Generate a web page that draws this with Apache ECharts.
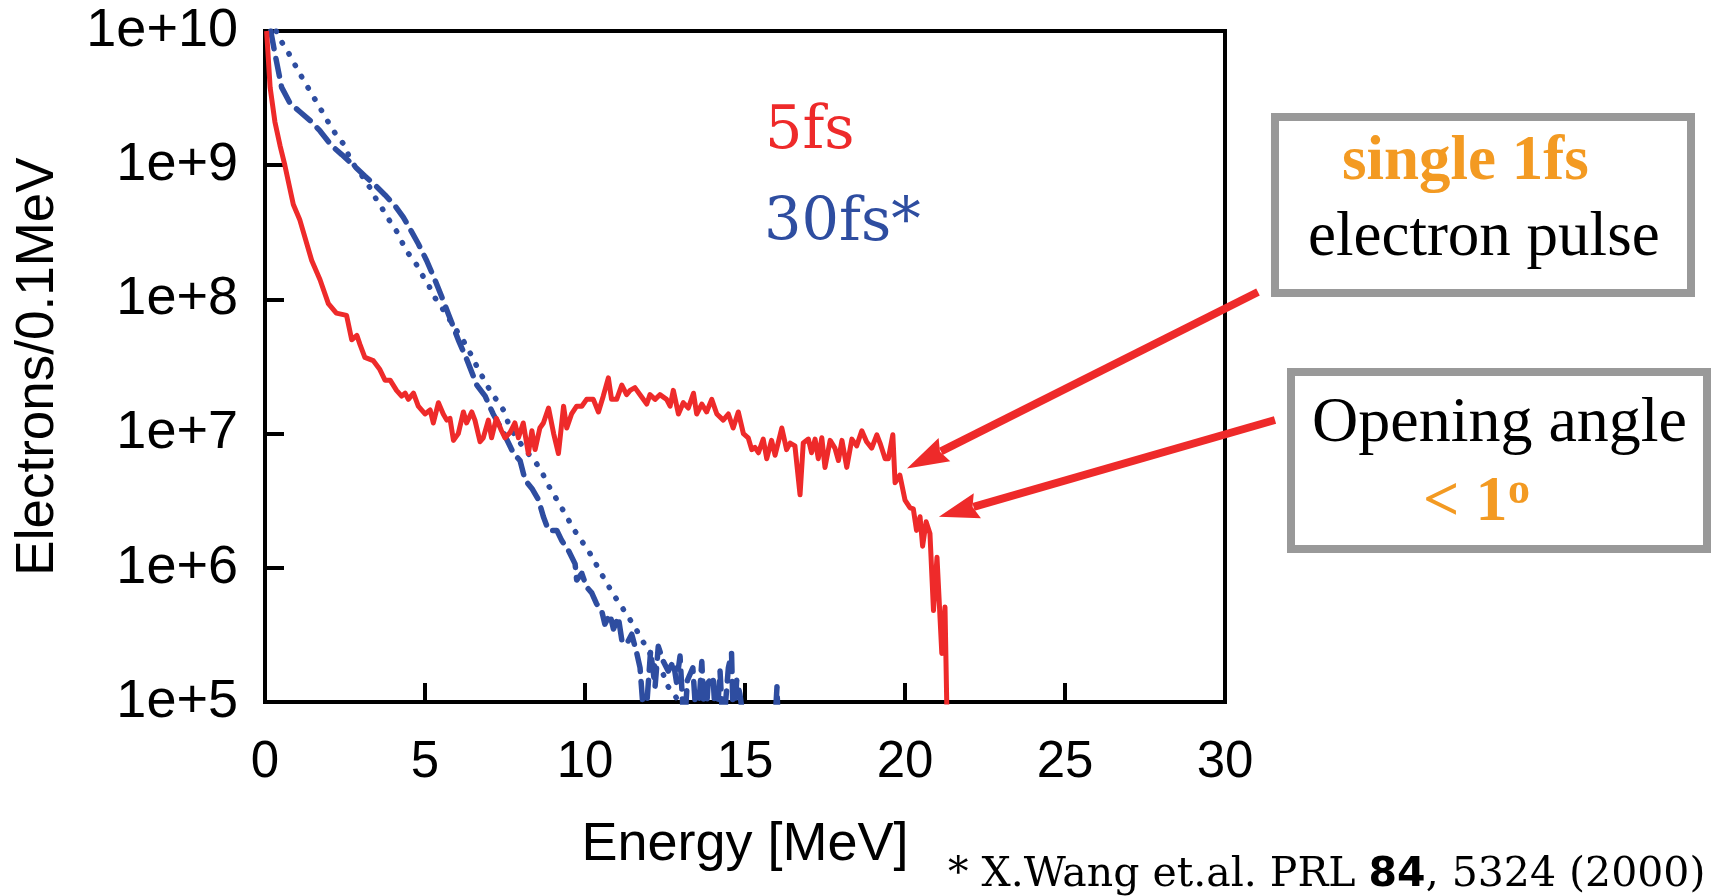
<!DOCTYPE html>
<html><head><meta charset="utf-8">
<script src="https://cdn.jsdelivr.net/npm/echarts@6/dist/echarts.min.js"></script>
<style>html,body{margin:0;padding:0;background:#fff}#c{width:1712px;height:896px}</style>
</head><body><div id="c"></div>
<script>
// ---- data ----
const energy5 = [0.05,0.16,0.31,0.47,0.62,0.885,1.09,1.46,1.72,1.98,2.23,2.55,2.71,2.87,2.97,3.12,3.38,3.59,3.75,3.91,4.11,4.27,4.38,4.48,4.64,4.79,5.0,5.16,5.26,5.42,5.57,5.68,5.78,5.89,6.04,6.2,6.3,6.46,6.56,6.72,6.82,6.98,7.08,7.23,7.39,7.5,7.66,7.81,7.92,8.07,8.23,8.34,8.44,8.59,8.7,8.86,9.02,9.17,9.33,9.43,9.58,9.74,9.9,10.05,10.26,10.42,10.57,10.73,10.83,10.99,11.15,11.3,11.41,11.56,11.72,11.93,12.03,12.19,12.34,12.55,12.66,12.76,12.92,13.07,13.23,13.39,13.49,13.65,13.8,13.96,14.12,14.32,14.48,14.63,14.79,14.95,15.1,15.21,15.31,15.42,15.57,15.68,15.83,15.94,16.15,16.3,16.41,16.56,16.72,16.82,16.98,17.08,17.19,17.29,17.4,17.5,17.66,17.81,17.92,18.03,18.18,18.34,18.49,18.65,18.8,18.96,19.12,19.22,19.38,19.48,19.62,19.69,19.84,20.0,20.16,20.26,20.36,20.47,20.55,20.66,20.78,20.89,21.0,21.15,21.25,21.38];
const counts5 = [1.0e10,3.8e9,2.1e9,1.4e9,1.0e9,5.1e8,3.9e8,1.95e8,1.4e8,9.3e7,7.9e7,7.6e7,5.0e7,5.4e7,4.6e7,3.7e7,3.5e7,3.0e7,2.5e7,2.5e7,2.1e7,1.9e7,2.0e7,1.8e7,2.0e7,1.6e7,1.4e7,1.5e7,1.2e7,1.7e7,1.4e7,1.26e7,1.3e7,8.9e6,1.0e7,1.45e7,1.2e7,1.45e7,1.26e7,8.7e6,9.3e6,1.26e7,9.3e6,1.3e7,1.05e7,9.3e6,1.02e7,1.2e7,9.3e6,1.2e7,7.1e6,1.05e7,7.6e6,1.1e7,1.2e7,1.55e7,1.0e7,7.1e6,1.6e7,1.1e7,1.4e7,1.6e7,1.6e7,1.8e7,1.8e7,1.45e7,1.9e7,2.6e7,1.8e7,1.8e7,2.3e7,1.95e7,2.1e7,2.2e7,1.95e7,1.66e7,1.95e7,1.8e7,1.95e7,1.8e7,1.6e7,2.1e7,1.4e7,1.7e7,1.55e7,2.0e7,1.4e7,1.66e7,1.45e7,1.8e7,1.4e7,1.26e7,1.4e7,1.1e7,1.45e7,1.0e7,9.3e6,7.6e6,7.9e6,7.2e6,9.1e6,6.5e6,8.9e6,6.9e6,1.1e7,7.6e6,8.5e6,8.1e6,3.5e6,8.5e6,9.1e6,7.2e6,9.1e6,6.5e6,9.3e6,5.6e6,8.9e6,7.8e6,6.3e6,8.9e6,5.6e6,9.1e6,8.1e6,1.05e7,8.7e6,7.8e6,9.8e6,8.5e6,6.5e6,6.5e6,9.8e6,4.3e6,4.9e6,3.2e6,2.8e6,2.75e6,1.9e6,2.4e6,1.45e6,2.2e6,1.8e6,4.8e5,1.2e6,2.3e5,5.1e5,1.0e4];

const energy30 = [0.18,0.31,0.52,0.78,1.09,1.46,1.72,2.08,2.40,2.76,3.12,3.44,3.75,4.06,4.32,4.58,4.79,5.05,5.31,5.52,5.73,6.04,6.3,6.62,6.88,7.13,7.45,7.77,7.97,8.13,8.34,8.55,8.70,8.86,9.12,9.27,9.48,9.69,9.74,9.9,10.05,10.21,10.36,10.52,10.62,10.78,10.89,11.04,11.15,11.3,11.46,11.62,11.72,11.87,12.05,12.19,12.29,12.45,12.6,12.76,12.86,12.97,13.1,13.2,13.37,13.5,13.65,13.75,13.85,14.0,14.1,14.22,14.32,14.48,14.58,14.64,14.74,14.84,15.0,15.5,15.92,16.0,16.04];
const counts30 = [1.0e10,6.8e9,3.8e9,2.9e9,2.5e9,2.1e9,1.8e9,1.4e9,1.2e9,1.0e9,8.3e8,7.1e8,6.0e8,5.0e8,4.1e8,3.2e8,2.6e8,1.95e8,1.4e8,1.05e8,7.8e7,5.0e7,3.6e7,2.3e7,1.9e7,1.4e7,1.02e7,7.1e6,6.3e6,4.5e6,3.9e6,3.2e6,2.4e6,1.9e6,1.9e6,1.6e6,1.35e6,1.07e6,8.1e5,9.1e5,7.2e5,6.5e5,5.4e5,4.8e5,3.8e5,4.5e5,3.5e5,4.3e5,2.9e5,2.7e5,3.2e5,2.3e5,1.8e5,6e4,2.4e5,1.3e5,2.6e5,2.0e5,1.7e5,2.0e5,1.4e5,2.2e5,6e4,1.45e5,1.8e5,6e4,2.0e5,6e4,1.4e5,1.55e5,6e4,1.7e5,6e4,1.8e5,2.3e5,6e4,1.45e5,1.15e5,6e4,null,6e4,1.3e5,6e4];

const energyFit = [0.35,0.52,0.73,1.09,1.46,1.67,2.08,2.29,2.5,2.66,3.07,3.28,3.49,3.7,3.91,4.12,4.27,4.48,4.69,4.89,5.1,5.26,5.47,6.3,6.67,7.03,7.45,7.66,8.07,8.48,8.7,8.86,9.06,9.27,9.43,9.64,9.84,10.05,10.26,10.47,10.68,10.83,11.04,11.25,11.41,11.62,11.82,12.03,12.19,12.45,12.6,12.86,13.1];
const countsFit = [1.0e10,8.3e9,6.9e9,4.8e9,3.4e9,2.8e9,1.9e9,1.6e9,1.4e9,1.1e9,8.1e8,6.8e8,5.5e8,4.6e8,3.8e8,3.2e8,2.7e8,2.2e8,1.9e8,1.55e8,1.3e8,1.07e8,9.1e7,4.5e7,3.0e7,2.1e7,1.5e7,1.1e7,7.9e6,6.0e6,4.9e6,4.1e6,3.4e6,2.8e6,2.4e6,1.95e6,1.66e6,1.4e6,1.17e6,9.3e5,7.8e5,6.6e5,5.6e5,4.7e5,4.1e5,3.4e5,2.8e5,2.3e5,1.8e5,1.6e5,1.3e5,1.07e5,8e4];

const xTicks = {min: 0, max: 30, interval: 5};
const yRange = {min: 1e5, max: 1e10};
const arrowTip1 = [20.06, 5.5e6];
const arrowTip2 = [21.06, 2.4e6];

// ---- chart ----
const RED = '#EE2A2A', BLUE = '#2E4DA0', ORANGE = '#F39A22';
const SANS = '"Liberation Sans", Arial, sans-serif';
const SERIF = '"Liberation Serif", "Times New Roman", serif';
const zip = (a, b) => a.map((x, i) => [x, b[i]]);

const chart = echarts.init(document.getElementById('c'), null, {renderer: 'canvas'});
chart.setOption({
  animation: false,
  backgroundColor: '#fff',
  grid: {left: 265, right: 487, top: 31, bottom: 194, show: true, borderColor: '#000', borderWidth: 4, backgroundColor: 'transparent'},
  xAxis: {
    type: 'value', min: xTicks.min, max: xTicks.max, interval: xTicks.interval,
    axisLine: {show: true, onZero: false, lineStyle: {color: '#000', width: 4}},
    axisTick: {show: true, inside: true, length: 19, lineStyle: {color: '#000', width: 4}},
    axisLabel: {color: '#000', fontSize: 51, fontFamily: SANS, margin: 35},
    splitLine: {show: false},
    name: 'Energy [MeV]', nameLocation: 'middle', nameGap: 116,
    nameTextStyle: {color: '#000', fontSize: 54, fontFamily: SANS}
  },
  yAxis: {
    type: 'log', logBase: 10, min: yRange.min, max: yRange.max,
    axisLine: {show: true, lineStyle: {color: '#000', width: 4}},
    axisTick: {show: true, inside: true, length: 19, lineStyle: {color: '#000', width: 4}},
    minorTick: {show: false},
    axisLabel: {color: '#000', fontSize: 54, fontFamily: SANS, margin: 27,
      formatter: v => '1e+' + Math.round(Math.log10(v))},
    splitLine: {show: false},
    name: 'Electrons/0.1MeV', nameLocation: 'middle', nameGap: 200,
    nameTextStyle: {color: '#000', fontSize: 53, fontFamily: SANS}
  },
  series: [
    {name: '30fs fit', type: 'line', data: zip(energyFit, countsFit), showSymbol: false, clip: true,
     lineStyle: {color: BLUE, width: 5.5, type: [0.5, 12.5], cap: 'round'}, z: 2},
    {name: '30fs', type: 'line', data: zip(energy30, counts30), showSymbol: false, clip: true, connectNulls: false,
     lineStyle: {color: BLUE, width: 5.5, type: [18, 10], cap: 'round', join: 'round'}, z: 3},
    {name: '5fs', type: 'line', data: zip(energy5, counts5), showSymbol: false, clip: true,
     lineStyle: {color: RED, width: 5, join: 'round'}, z: 4}
  ]
});

function arrow(tail, tip, headLen, headHalf, width) {
  const dx = tip[0] - tail[0], dy = tip[1] - tail[1];
  const L = Math.sqrt(dx * dx + dy * dy), ux = dx / L, uy = dy / L, px = -uy, py = ux;
  const bx = tip[0] - ux * headLen, by = tip[1] - uy * headLen;
  return [
    {type: 'polyline', shape: {points: [tail, [bx + ux * 4, by + uy * 4]]}, style: {stroke: RED, lineWidth: width, fill: null}, z: 50},
    {type: 'polygon', shape: {points: [tip, [bx + px * headHalf, by + py * headHalf], [bx + ux * 5, by + uy * 5], [bx - px * headHalf, by - py * headHalf]]}, style: {fill: RED}, z: 51}
  ];
}
function txt(text, x, y, font, fill, extra) {
  return {type: 'text', z: 60, style: Object.assign({text: text, x: x, y: y, font: font, fill: fill,
    textAlign: 'left', align: 'left', textVerticalAlign: 'middle', verticalAlign: 'middle'}, extra || {})};
}
const shadow = {shadowColor: 'rgba(150,150,150,0.8)', shadowOffsetX: 3, shadowOffsetY: 3, shadowBlur: 0};

const tip1 = chart.convertToPixel({gridIndex: 0}, arrowTip1);
const tip2 = chart.convertToPixel({gridIndex: 0}, arrowTip2);

const graphics = [
  txt('5fs', 765, 133, '59px "DejaVu Serif", serif', RED),
  txt('30fs*', 764, 225, '59px "DejaVu Serif", serif', BLUE),
  {type: 'rect', shape: {x: 1275, y: 117, width: 416, height: 176}, style: {fill: '#fff', stroke: '#999', lineWidth: 8}, z: 40},
  {type: 'rect', shape: {x: 1291, y: 372, width: 416, height: 177}, style: {fill: '#fff', stroke: '#999', lineWidth: 8}, z: 40},
  txt('single 1fs', 1342, 163, 'bold 63px ' + SERIF, ORANGE, shadow),
  txt('electron pulse', 1308, 238, '63px ' + SERIF, '#000'),
  txt('Opening angle', 1312, 424, '64px ' + SERIF, '#000'),
  txt('< 1', 1423, 503, 'bold 64px ' + SERIF, ORANGE, shadow),
  txt('o', 1508, 492, 'bold 44px ' + SERIF, ORANGE, shadow),
  {type: 'text', z: 60, style: {x: 948, y: 875, textAlign: 'left', align: 'left', textVerticalAlign: 'middle', verticalAlign: 'middle',
    text: '{a|* X.Wang et.al. PRL }{b|84}{a|, 5324 (2000)}',
    rich: {a: {font: '41px "DejaVu Serif", serif', fill: '#000', color: '#000'}, b: {font: 'bold 41px "DejaVu Sans", sans-serif', fill: '#000', color: '#000'}}}}
].concat(arrow([1258, 292], tip1, 42, 13, 8), arrow([1275, 420], tip2, 40, 13, 8));

chart.setOption({graphic: graphics});
</script></body></html>
